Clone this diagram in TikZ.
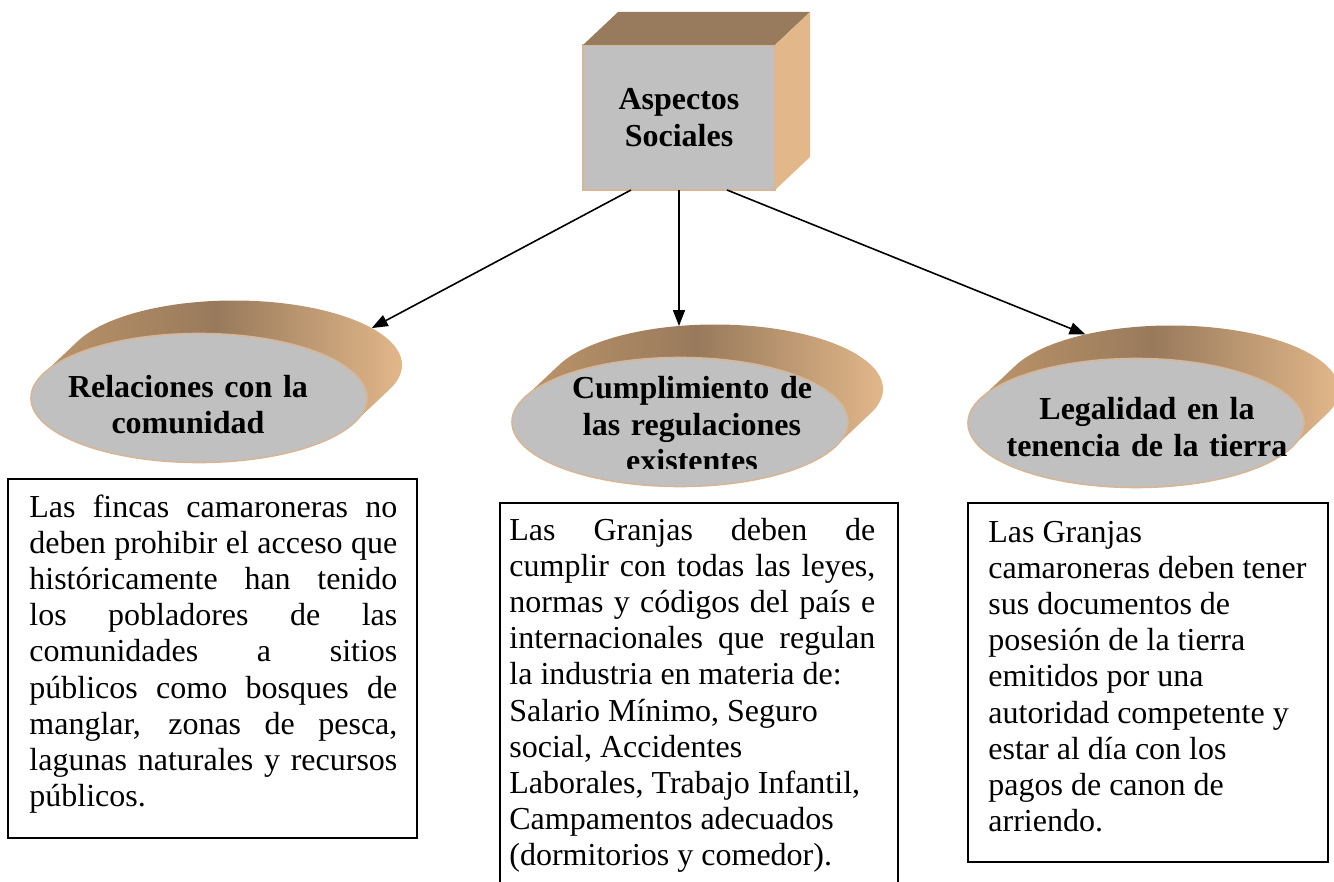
\documentclass[tikz,border=0pt]{standalone}
\usepackage{fontspec}
\setmainfont{Liberation Serif}
\usetikzlibrary{arrows.meta, shapes.geometric, calc, positioning, backgrounds}
\definecolor{grisfrente}{RGB}{192,192,192}
\definecolor{bordecafe}{RGB}{214,182,150}
\definecolor{cafeoscuro}{RGB}{152,122,92}
\definecolor{cafemedio}{RGB}{190,150,106}
\definecolor{cafeclaro}{RGB}{226,183,138}
\newcommand{\tamano}{\fontsize{16pt}{18.1pt}\selectfont}
\tolerance=10000
\hbadness=10000
\hyphenpenalty=10000
\tikzstyle{cubo} = [rectangle, minimum width=96pt, minimum height=72.5pt, fill=grisfrente, draw=bordecafe, line width=1pt, inner sep=0pt, outer sep=0pt, align=center, font=\bfseries\tamano]
\tikzstyle{frente} = [ellipse, minimum width=168pt, minimum height=64.5pt, fill=grisfrente, draw=bordecafe, line width=0.8pt, inner sep=0pt, outer sep=0pt]
\tikzstyle{fondo} = [ellipse, minimum width=168pt, minimum height=64.5pt, inner sep=0pt, outer sep=0pt]
\tikzstyle{titulo} = [text width=150pt, align=center, inner sep=0pt, anchor=base, font=\bfseries\tamano]
\tikzstyle{caja} = [rectangle, draw=black, line width=0.8pt, inner sep=0pt, anchor=north west]
\tikzstyle{texto} = [inner sep=0pt, anchor=base west, font=\tamano]
\tikzset{
	FLECHA/.style={line width=0.8pt, arrows={-Triangle[length=8pt, width=6pt]}}
}

\begin{document}
\begin{tikzpicture}[x=0.5pt, y=-0.5pt]
	\useasboundingbox (0,0) rectangle (1334,882);
	\node (aspectos) [cubo] at (679,117.5) {Aspectos\\Sociales};
	\fill [cafeoscuro] (aspectos.north west) -- ++(17.5pt,16.5pt) -- ([xshift=17.5pt,yshift=16.5pt]aspectos.north east) -- (aspectos.north east) -- cycle;
	\fill [cafeclaro] (aspectos.north east) -- ++(17.5pt,16.5pt) -- ([xshift=17.5pt,yshift=16.5pt]aspectos.south east) -- (aspectos.south east) -- cycle;
	\node (relaciones) [frente] at (199,398) {};
	\node (cumplimiento) [frente] at (680,422) {};
	\node (legalidad) [frente] at (1136,423) {};
	\node (relfondo) [fondo] at ([xshift=17.5pt,yshift=16.5pt]relaciones.center) {};
	\node (cumfondo) [fondo] at ([xshift=17.5pt,yshift=16.5pt]cumplimiento.center) {};
	\node (legfondo) [fondo] at ([xshift=17.5pt,yshift=16.5pt]legalidad.center) {};
	\begin{scope}[on background layer]
		\foreach \delante/\detras in {relaciones/relfondo, cumplimiento/cumfondo, legalidad/legfondo} {
			\begin{scope}
				\clip \foreach \k in {0,...,24} {($(\delante.center)!\k/24!(\detras.center)$) ellipse [x radius=84pt, y radius=32.25pt]};
				\shade [left color=cafemedio, right color=cafeclaro, middle color=cafeoscuro] (\delante.west |- \delante.south) rectangle (\detras.east |- \detras.north);
			\end{scope}
		}
	\end{scope}
	\draw [FLECHA] ([xshift=-24pt]aspectos.south) -- (relfondo.15);
	\draw [FLECHA] (aspectos.south) -- (aspectos.south |- cumfondo.120);
	\draw [FLECHA] ([xshift=24pt]aspectos.south) -- (legfondo.147);
	\node (reltxt) [titulo] at ([xshift=-5.5pt,yshift=0.5pt]relaciones.center) {Relaciones con la\\comunidad};
	\begin{scope}
		\clip (500,340) rectangle (900,468);
		\node (cumtxt) [titulo] at ([xshift=6pt,yshift=11.5pt]cumplimiento.center) {Cumplimiento de\\las regulaciones\\existentes};
	\end{scope}
	\node (legtxt) [titulo] at ([xshift=5.5pt,yshift=1.5pt]legalidad.center) {Legalidad en la\\tenencia de la tierra};
	\node (caja1) [caja, minimum width=204.5pt, minimum height=179.5pt] at (7,478) {};
	\node (caja2) [caja, minimum width=199pt, minimum height=200pt] at (499,502) {};
	\node (caja3) [caja, minimum width=180pt, minimum height=179.5pt] at (967,502) {};
	\node (texto1) [texto, text width=184pt, align=justify] at ([xshift=11pt,yshift=-19.5pt]caja1.north west) {Las fincas camaroneras no\linebreak deben prohibir el acceso que\linebreak históricamente han tenido\linebreak los pobladores de las\linebreak comunidades a sitios\linebreak públicos como bosques de\linebreak manglar, zonas de pesca,\linebreak lagunas naturales y recursos\linebreak públicos.};
	\node (texto2) [texto, text width=183pt, align=justify] at ([xshift=5pt,yshift=-19pt]caja2.north west) {Las Granjas deben de\linebreak cumplir con todas las leyes,\linebreak normas y códigos del país e\linebreak internacionales que regulan\linebreak la industria en materia de:\newline Salario Mínimo, Seguro\newline social, Accidentes\newline Laborales, Trabajo Infantil,\newline Campamentos adecuados\newline (dormitorios y comedor).};
	\node (texto3) [texto, text width=165pt, align=justify] at ([xshift=10.5pt,yshift=-20pt]caja3.north west) {Las Granjas\newline camaroneras deben tener\newline sus documentos de\newline posesión de la tierra\newline emitidos por una\newline autoridad competente y\newline estar al día con los\newline pagos de canon de\newline arriendo.};
\end{tikzpicture}
\end{document}
